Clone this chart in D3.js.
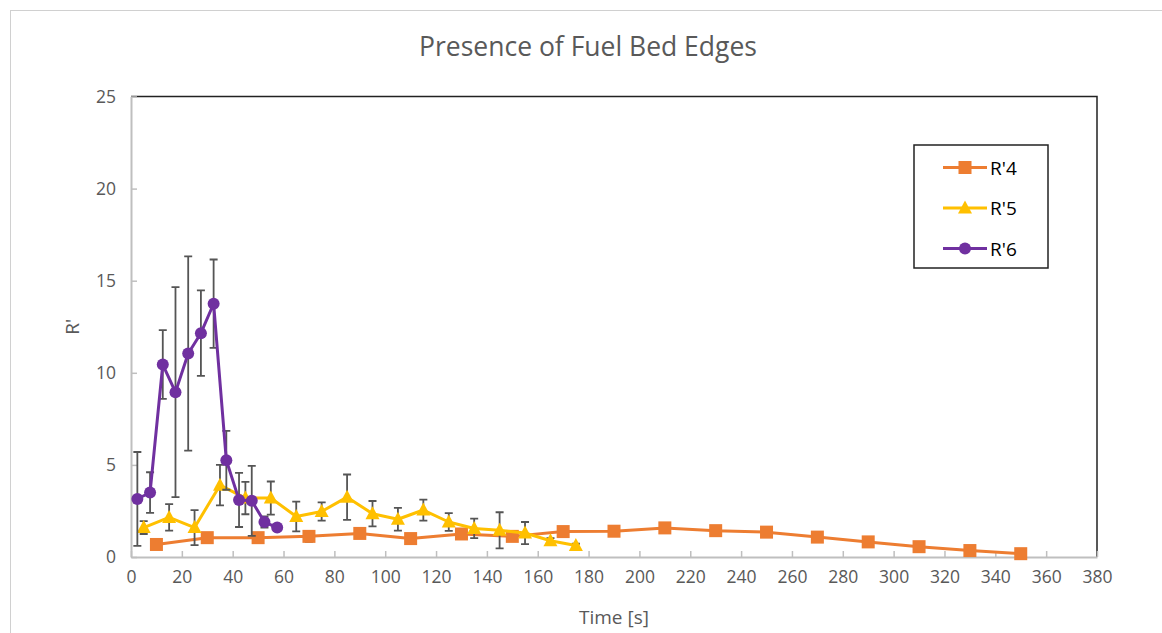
<!DOCTYPE html>
<html>
<head>
<meta charset="utf-8">
<script src="https://cdn.jsdelivr.net/npm/d3@7/dist/d3.min.js"></script>
<style>
  body { margin: 0; background: #fff; }
  svg { display: block; font-family: "Open Sans", "Liberation Sans", sans-serif; }
</style>
</head>
<body>
<div id="chart"></div>
<script>
var chartTitle = "Presence of Fuel Bed Edges";
var xTicks = d3.range(0, 381, 20);
var yTicks = [0, 5, 10, 15, 20, 25];

// R'4
var r4Time = [10, 30, 50, 70, 90, 110, 130, 150, 170, 190, 210, 230, 250, 270, 290, 310, 330, 350];
var r4Value = [0.68, 1.05, 1.05, 1.12, 1.28, 1.0, 1.25, 1.12, 1.38, 1.4, 1.58, 1.43, 1.35, 1.08, 0.82, 0.56, 0.35, 0.18];
var r4Err = [0.1, 0.15, 0.15, 0.3, 0.1, 0.1, 0.1, 0.1, 0.1, 0.1, 0.1, 0.1, 0.1, 0.1, 0.1, 0.1, 0.1, 0.1];

// R'5
var r5Time = [5, 15, 25, 35, 45, 55, 65, 75, 85, 95, 105, 115, 125, 135, 145, 155, 165, 175];
var r5Value = [1.6, 2.15, 1.6, 3.9, 3.2, 3.2, 2.2, 2.47, 3.25, 2.35, 2.05, 2.55, 1.9, 1.55, 1.45, 1.3, 0.88, 0.62];
var r5Err = [0.35, 0.72, 0.95, 1.1, 0.88, 0.9, 0.81, 0.5, 1.23, 0.69, 0.62, 0.57, 0.48, 0.53, 0.98, 0.6, 0.15, 0.1];

// R'6
var r6Time = [2.5, 7.5, 12.5, 17.5, 22.5, 27.5, 32.5, 37.5, 42.5, 47.5, 52.5, 57.5];
var r6Value = [3.15, 3.5, 10.45, 8.95, 11.05, 12.15, 13.75, 5.25, 3.1, 3.05, 1.9, 1.6];
var r6Err = [2.55, 1.1, 1.87, 5.7, 5.27, 2.32, 2.4, 1.6, 1.47, 1.9, 0.3, 0.1];

var seriesNames = ["R'4", "R'5", "R'6"];
var seriesColors = ["#ED7D31", "#FFC000", "#7030A0"];
var seriesShapes = ["square", "triangle", "circle"];

var width = 1162, height = 633;
var margin = {left: 131, right: 65, top: 96.5, bottom: 76};

var svg = d3.select("#chart").append("svg")
  .attr("width", width)
  .attr("height", height);

// outer chart border
svg.append("rect")
  .attr("x", 10.5).attr("y", 10.5)
  .attr("width", 1300).attr("height", 800)
  .attr("fill", "#fff")
  .attr("stroke", "#d0d0d0")
  .attr("stroke-width", 1);

var x = d3.scaleLinear().domain([0, 380]).range([margin.left, width - margin.right]);
var y = d3.scaleLinear().domain([0, 25]).range([height - margin.bottom, margin.top]);

svg.append("text")
  .attr("x", 588).attr("y", 56)
  .attr("text-anchor", "middle")
  .attr("font-size", 26.5)
  .attr("fill", "#595959")
  .text(chartTitle);

// plot area frame (top and right)
svg.append("path")
  .attr("d", "M" + x(0) + "," + y(25) + "H" + x(380) + "V" + y(0))
  .attr("fill", "none")
  .attr("stroke", "#222")
  .attr("stroke-width", 1.5);

var xAxis = svg.append("g")
  .attr("transform", "translate(0," + y(0) + ")")
  .call(d3.axisBottom(x).tickValues(xTicks).tickSizeInner(-6).tickSizeOuter(0).tickPadding(14));
var yAxis = svg.append("g")
  .attr("transform", "translate(" + x(0) + ",0)")
  .call(d3.axisLeft(y).tickValues(yTicks).tickSizeInner(-6).tickSizeOuter(0).tickPadding(15));

[xAxis, yAxis].forEach(function (axis) {
  axis.select(".domain").attr("stroke", "#bfbfbf").attr("stroke-width", 2);
  axis.selectAll(".tick line").attr("stroke", "#bfbfbf").attr("stroke-width", 1.5);
  axis.selectAll(".tick text")
    .attr("font-family", "'Open Sans', sans-serif")
    .attr("font-size", 17.5)
    .attr("fill", "#595959");
});

svg.append("text")
  .attr("x", x(190)).attr("y", 624)
  .attr("text-anchor", "middle")
  .attr("font-size", 19)
  .attr("fill", "#595959")
  .text("Time [s]");

svg.append("text")
  .attr("transform", "translate(79," + y(12.5) + ") rotate(-90)")
  .attr("text-anchor", "middle")
  .attr("font-size", 19)
  .attr("fill", "#595959")
  .text("R'");

function drawMarker(g, shape, color) {
  if (shape === "square") {
    g.append("rect").attr("x", -6.5).attr("y", -6.5).attr("width", 13).attr("height", 13)
      .attr("fill", color);
  } else if (shape === "triangle") {
    g.append("path").attr("d", "M0,-7.5L7,5.5L-7,5.5Z").attr("fill", color);
  } else {
    g.append("circle").attr("r", 6).attr("fill", color);
  }
}

var allSeries = [
  {t: r4Time, v: r4Value, e: r4Err},
  {t: r5Time, v: r5Value, e: r5Err},
  {t: r6Time, v: r6Value, e: r6Err}
];

var line = d3.line()
  .x(function (d) { return x(d.t); })
  .y(function (d) { return y(d.v); });

allSeries.forEach(function (s, i) {
  var pts = s.t.map(function (t, j) { return {t: t, v: s.v[j], e: s.e[j]}; });
  var g = svg.append("g");

  var err = g.append("g").attr("stroke", "#555").attr("stroke-width", 1.8).attr("fill", "none");
  pts.forEach(function (d) {
    var cx = x(d.t), y1 = y(d.v + d.e), y2 = y(d.v - d.e);
    err.append("path")
      .attr("d", "M" + cx + "," + y1 + "V" + y2 +
        "M" + (cx - 4) + "," + y1 + "H" + (cx + 4) +
        "M" + (cx - 4) + "," + y2 + "H" + (cx + 4));
  });

  g.append("path")
    .datum(pts)
    .attr("d", line)
    .attr("fill", "none")
    .attr("stroke", seriesColors[i])
    .attr("stroke-width", 3)
    .attr("stroke-linejoin", "round");

  g.selectAll("g.pt")
    .data(pts)
    .join("g")
    .attr("class", "pt")
    .attr("transform", function (d) { return "translate(" + x(d.t) + "," + y(d.v) + ")"; })
    .each(function () { drawMarker(d3.select(this), seriesShapes[i], seriesColors[i]); });
});

// legend
var legend = svg.append("g");
legend.append("rect")
  .attr("x", 914).attr("y", 145)
  .attr("width", 134).attr("height", 123)
  .attr("fill", "#fff")
  .attr("stroke", "#222")
  .attr("stroke-width", 1.5);

seriesNames.forEach(function (name, i) {
  var ly = 167.5 + i * 40.5;
  var row = legend.append("g").attr("transform", "translate(0," + ly + ")");
  row.append("line")
    .attr("x1", 943).attr("x2", 987)
    .attr("stroke", seriesColors[i]).attr("stroke-width", 3);
  var m = row.append("g").attr("transform", "translate(965,0)");
  drawMarker(m, seriesShapes[i], seriesColors[i]);
  row.append("text")
    .attr("x", 990).attr("y", 7)
    .attr("font-size", 19)
    .attr("fill", "#000")
    .text(name);
});
</script>
</body>
</html>
